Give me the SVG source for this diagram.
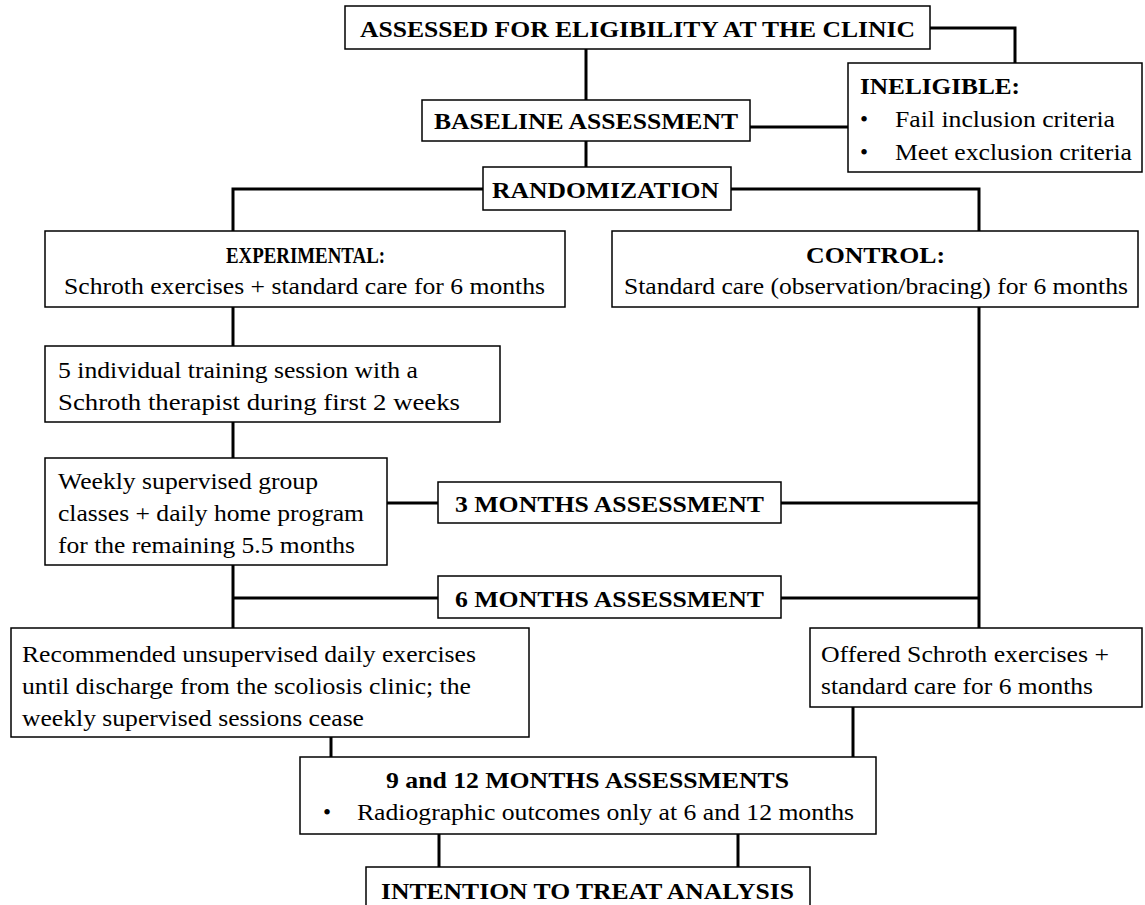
<svg xmlns="http://www.w3.org/2000/svg" width="1145" height="905" viewBox="0 0 1145 905" font-family="Liberation Serif" font-size="23">
<style>
.box{fill:#fff;stroke:#000;stroke-width:1.5}
.b{font-weight:bold;font-size:24px}
.ln{stroke:#000;stroke-width:3;fill:none}
</style>
<rect width="1145" height="905" fill="#fff"/>
<g id="connectors">
<path class="ln" d="M930 28H1015V63"/>
<path class="ln" d="M586 49V100"/>
<path class="ln" d="M750 127H848"/>
<path class="ln" d="M586 141V167"/>
<path class="ln" d="M483 189H233V231"/>
<path class="ln" d="M731 189H979V231"/>
<path class="ln" d="M233 307V346"/>
<path class="ln" d="M233 422V458"/>
<path class="ln" d="M387 503H438"/>
<path class="ln" d="M781 503H979"/>
<path class="ln" d="M979 307V628"/>
<path class="ln" d="M233 565V628"/>
<path class="ln" d="M233 598H438"/>
<path class="ln" d="M781 598H979"/>
<path class="ln" d="M331 737V757"/>
<path class="ln" d="M853 707V757"/>
<path class="ln" d="M439 834V867"/>
<path class="ln" d="M738 834V867"/>
</g>
<g id="assessed">
<rect class="box" x="345" y="6" width="585" height="43"/>
<text class="b" x="360" y="37" textLength="555" lengthAdjust="spacingAndGlyphs">ASSESSED FOR ELIGIBILITY AT THE CLINIC</text>
</g>
<g id="ineligible">
<rect class="box" x="848" y="63" width="294" height="109"/>
<text class="b" x="860" y="94" textLength="160" lengthAdjust="spacingAndGlyphs">INELIGIBLE:</text>
<text x="860" y="127">•</text>
<text x="895" y="127" textLength="220" lengthAdjust="spacingAndGlyphs">Fail inclusion criteria</text>
<text x="860" y="160">•</text>
<text x="895" y="160" textLength="237" lengthAdjust="spacingAndGlyphs">Meet exclusion criteria</text>
</g>
<g id="baseline">
<rect class="box" x="422" y="100" width="328" height="41"/>
<text class="b" x="434" y="129" textLength="304" lengthAdjust="spacingAndGlyphs">BASELINE ASSESSMENT</text>
</g>
<g id="randomization">
<rect class="box" x="483" y="167" width="248" height="43"/>
<text class="b" x="492" y="198" textLength="227" lengthAdjust="spacingAndGlyphs">RANDOMIZATION</text>
</g>
<g id="experimental">
<rect class="box" x="45" y="231" width="520" height="76"/>
<text class="b" x="226" y="263" textLength="159" lengthAdjust="spacingAndGlyphs">EXPERIMENTAL:</text>
<text x="64" y="294" textLength="481" lengthAdjust="spacingAndGlyphs">Schroth exercises + standard care for 6 months</text>
</g>
<g id="control">
<rect class="box" x="612" y="231" width="526" height="76"/>
<text class="b" x="806" y="263" textLength="139" lengthAdjust="spacingAndGlyphs">CONTROL:</text>
<text x="624" y="294" textLength="504" lengthAdjust="spacingAndGlyphs">Standard care (observation/bracing) for 6 months</text>
</g>
<g id="individual">
<rect class="box" x="45" y="346" width="455" height="76"/>
<text x="58" y="378" textLength="360" lengthAdjust="spacingAndGlyphs">5 individual training session with a</text>
<text x="58" y="410" textLength="402" lengthAdjust="spacingAndGlyphs">Schroth therapist during first 2 weeks</text>
</g>
<g id="weekly">
<rect class="box" x="45" y="458" width="342" height="107"/>
<text x="58" y="489" textLength="260" lengthAdjust="spacingAndGlyphs">Weekly supervised group</text>
<text x="58" y="521" textLength="306" lengthAdjust="spacingAndGlyphs">classes + daily home program</text>
<text x="58" y="553" textLength="297" lengthAdjust="spacingAndGlyphs">for the remaining 5.5 months</text>
</g>
<g id="month3">
<rect class="box" x="438" y="482" width="343" height="41"/>
<text class="b" x="455" y="512" textLength="309" lengthAdjust="spacingAndGlyphs">3 MONTHS ASSESSMENT</text>
</g>
<g id="month6">
<rect class="box" x="438" y="576" width="343" height="42"/>
<text class="b" x="455" y="607" textLength="309" lengthAdjust="spacingAndGlyphs">6 MONTHS ASSESSMENT</text>
</g>
<g id="recommended">
<rect class="box" x="11" y="628" width="518" height="109"/>
<text x="22" y="662" textLength="454" lengthAdjust="spacingAndGlyphs">Recommended unsupervised daily exercises</text>
<text x="22" y="694" textLength="449" lengthAdjust="spacingAndGlyphs">until discharge from the scoliosis clinic; the</text>
<text x="22" y="726" textLength="342" lengthAdjust="spacingAndGlyphs">weekly supervised sessions cease</text>
</g>
<g id="offered">
<rect class="box" x="810" y="628" width="332" height="79"/>
<text x="821" y="662" textLength="288" lengthAdjust="spacingAndGlyphs">Offered Schroth exercises +</text>
<text x="821" y="694" textLength="272" lengthAdjust="spacingAndGlyphs">standard care for 6 months</text>
</g>
<g id="assessments912">
<rect class="box" x="300" y="757" width="576" height="77"/>
<text class="b" x="386" y="788" textLength="403" lengthAdjust="spacingAndGlyphs">9 and 12 MONTHS ASSESSMENTS</text>
<text x="323" y="820">•</text>
<text x="357" y="820" textLength="497" lengthAdjust="spacingAndGlyphs">Radiographic outcomes only at 6 and 12 months</text>
</g>
<g id="itt">
<rect class="box" x="366" y="867" width="444" height="60"/>
<text class="b" x="381" y="899" textLength="413" lengthAdjust="spacingAndGlyphs">INTENTION TO TREAT ANALYSIS</text>
</g>
</svg>
